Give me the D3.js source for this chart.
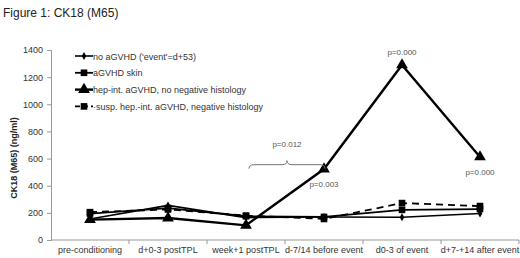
<!DOCTYPE html>
<html>
<head>
<meta charset="utf-8">
<script src="https://cdn.jsdelivr.net/npm/d3@7"></script>
<style>
  body { margin: 0; background: #fff; }
  svg { display: block; font-family: "Liberation Sans", Arial, sans-serif; }
</style>
</head>
<body>
<svg id="drawing_region"></svg>
<script>
const categories = ["pre-conditioning", "d+0-3 postTPL", "week+1 postTPL", "d-7/14 before event", "d0-3 of event", "d+7-+14 after event"];
const seriesNames = ["no aGVHD ('event'=d+53)", "aGVHD skin", "hep-int. aGVHD, no negative histology", "\u00b7susp. hep.-int. aGVHD, negative histology"];
const noAgvhd = [155, 255, 165, 170, 168, 195];
const agvhdSkin = [195, 235, 175, 170, 222, 228];
const hepInt = [150, 162, 108, 523, 1290, 612];
const suspHepInt = [205, 225, 180, 155, 272, 250];
const yTicks = [0, 200, 400, 600, 800, 1000, 1200, 1400];
// p-values: [category index, text, value it sits next to, above/below]
const pNotes = [
  [3, "p=0.003", 523, "below"],
  [4, "p=0.000", 1290, "above"],
  [5, "p=0.000", 612, "below"]
];

let config = {
  parent: '#drawing_region',
  width: 520,
  height: 258,
  margin: {top: 50, right: 1, bottom: 18, left: 51}
};

class LineChart {

  constructor( config ) {
    this.config = config;
    this.series = [
      {name: seriesNames[0], values: noAgvhd, symbol: d3.symbolDiamond, size: 18, width: 1.6, dash: null},
      {name: seriesNames[1], values: agvhdSkin, symbol: d3.symbolSquare, size: 44, width: 1.8, dash: null},
      {name: seriesNames[2], values: hepInt, symbol: d3.symbolTriangle, size: 60, width: 2.4, dash: null},
      {name: seriesNames[3], values: suspHepInt, symbol: d3.symbolSquare, size: 44, width: 1.8, dash: "7,5"}
    ];
    this.init();
  }

  init() {
    let self = this;
    let c = self.config;

    self.svg = d3.select( c.parent )
      .attr('width', c.width)
      .attr('height', c.height);

    self.inner_width = c.width - c.margin.left - c.margin.right;
    self.inner_height = c.height - c.margin.top - c.margin.bottom;

    self.chart = self.svg.append('g')
      .attr('transform', `translate(${c.margin.left}, ${c.margin.top})`);

    self.x_band = d3.scaleBand()
      .domain( categories )
      .range( [0, 468] );

    self.y_scale = d3.scaleLinear()
      .domain( [0, 1400] )
      .range( [190, 0] );
  }

  render() {
    let self = this;
    let xc = d => self.x_band(categories[d]) + self.x_band.bandwidth() / 2;

    // title
    self.svg.append('text')
      .attr('x', 3).attr('y', 17)
      .attr('font-size', 12)
      .attr('fill', '#222')
      .text('Figure 1: CK18 (M65)');

    // y axis
    let yaxis = self.chart.append('g')
      .call( d3.axisLeft(self.y_scale).tickValues(yTicks).tickSize(4).tickPadding(4).tickFormat(d3.format('d')) );
    yaxis.select('.domain').attr('stroke', '#999');
    yaxis.selectAll('.tick line').attr('stroke', '#999');
    yaxis.selectAll('.tick text').attr('font-size', 9).attr('fill', '#333').attr('font-family', null);

    // x axis with separators between categories
    let xaxis = self.chart.append('g')
      .attr('transform', `translate(0, 190)`);
    xaxis.append('line')
      .attr('x1', 0).attr('x2', self.x_band.range()[1])
      .attr('stroke', '#999');
    xaxis.selectAll('line.sep')
      .data( categories.map((d, i) => i + 1) )
      .enter().append('line')
      .attr('class', 'sep')
      .attr('x1', i => self.x_band.step() * i).attr('x2', i => self.x_band.step() * i)
      .attr('y1', 0).attr('y2', 4)
      .attr('stroke', '#999');
    xaxis.selectAll('text')
      .data( categories )
      .enter().append('text')
      .attr('x', (d, i) => xc(i))
      .attr('y', 13)
      .attr('text-anchor', 'middle')
      .attr('font-size', 9)
      .attr('fill', '#333')
      .text( d => d );

    // y axis title
    self.svg.append('text')
      .attr('transform', `translate(17, 158) rotate(-90)`)
      .attr('text-anchor', 'middle')
      .attr('font-size', 9)
      .attr('font-weight', 'bold')
      .attr('fill', '#222')
      .text('CK18 (M65) (ng/ml)');

    // lines
    let line = d3.line()
      .x( (d, i) => xc(i) )
      .y( d => self.y_scale(d) );

    self.chart.selectAll('path.series')
      .data( self.series )
      .enter().append('path')
      .attr('class', 'series')
      .attr('d', s => line(s.values))
      .attr('fill', 'none')
      .attr('stroke', '#000')
      .attr('stroke-width', s => s.width)
      .attr('stroke-dasharray', s => s.dash);

    self.series.forEach( s => {
      self.chart.selectAll(null)
        .data( s.values )
        .enter().append('path')
        .attr('d', d3.symbol().type(s.symbol).size(s.size))
        .attr('transform', (d, i) => `translate(${xc(i)}, ${self.y_scale(d)})`)
        .attr('fill', '#000');
    });

    // p-value annotations
    self.chart.selectAll('text.pval')
      .data( pNotes )
      .enter().append('text')
      .attr('class', 'pval')
      .attr('x', d => xc(d[0]))
      .attr('y', d => self.y_scale(d[2]) + (d[3] === 'above' ? -10 : 18))
      .attr('text-anchor', 'middle')
      .attr('font-size', 8)
      .attr('fill', '#555')
      .text( d => d[1] );

    // brace between week+1 and d-7/14
    let bx0 = xc(2) + 3, bx1 = xc(3) + 1;
    let by = self.y_scale(555), bm = (bx0 + bx1) / 2;
    self.chart.append('path')
      .attr('d', `M${bx0},${by + 4} Q${bx0},${by} ${bx0 + 5},${by} L${bm - 5},${by} Q${bm},${by} ${bm},${by - 4} Q${bm},${by} ${bm + 5},${by} L${bx1 - 5},${by} Q${bx1},${by} ${bx1},${by + 4}`)
      .attr('fill', 'none')
      .attr('stroke', '#777')
      .attr('stroke-width', 1);
    self.chart.append('text')
      .attr('x', bm)
      .attr('y', by - 18)
      .attr('text-anchor', 'middle')
      .attr('font-size', 8)
      .attr('fill', '#555')
      .text('p=0.012');

    // legend
    let legend = self.svg.append('g')
      .attr('transform', 'translate(75, 56)');
    let rows = legend.selectAll('g')
      .data( self.series )
      .enter().append('g')
      .attr('transform', (d, i) => `translate(0, ${i * 16.8})`);
    rows.append('line')
      .attr('x1', 0).attr('x2', 18)
      .attr('stroke', '#000')
      .attr('stroke-width', s => s.width)
      .attr('stroke-dasharray', s => s.dash ? '5,3' : null);
    rows.append('path')
      .attr('d', s => d3.symbol().type(s.symbol).size(s.size)())
      .attr('transform', 'translate(9, 0)')
      .attr('fill', '#000');
    rows.append('text')
      .attr('x', 18)
      .attr('y', 3.5)
      .attr('font-size', 9)
      .attr('fill', '#333')
      .text( s => s.name );
  }
}

const chart = new LineChart( config );
chart.render();
</script>
</body>
</html>
